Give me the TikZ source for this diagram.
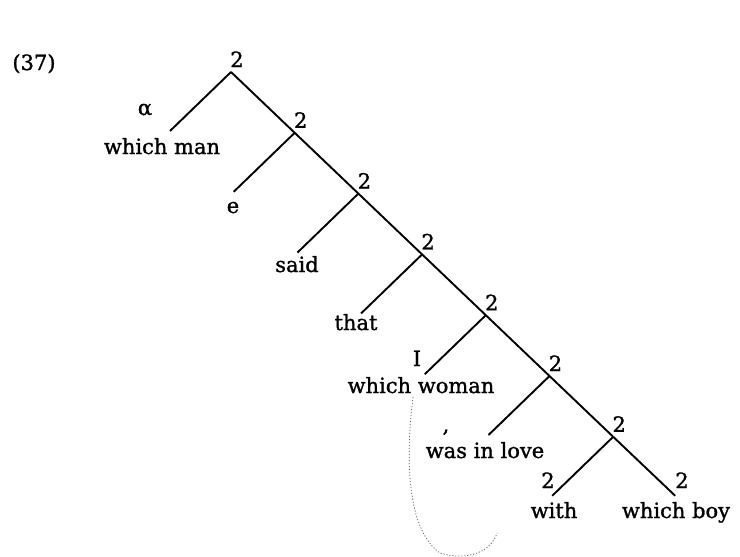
\documentclass[tikz,border=0pt]{standalone}
\usepackage{fontspec}
\setmainfont{DejaVu Serif}[BoldFont={DejaVu Serif}, BoldFeatures={FakeBold=1.2}]
\usetikzlibrary{calc}

\begin{document}
\begin{tikzpicture}[x=1pt, y=-1pt,
  word/.style={font=\fontsize{21}{25}\selectfont\bfseries, inner sep=0pt, anchor=base},
  branch/.style={line width=1.9pt},
  hand/.style={black!65, line width=0.7pt, dash pattern=on 1.2pt off 1.8pt}]
  \useasboundingbox (0,0) rectangle (740,557);
  % --- Spine: vertices, left leaves, "2" labels ---
  \foreach \k in {0,...,6} {
    \coordinate (v\k) at ({231+63.7*\k},{72+60.8*\k});
    \coordinate (l\k) at ($(v\k)+(-61,59)$);
    \node[word] (n\k) at ($(v\k)+(6,-5)$) {2};
  }
  \coordinate (r6) at ($(v6)+(62,59)$);
  % --- Branches ---
  \foreach \k [count=\j] in {0,...,5}
    \draw[branch] (v\k) -- (v\j);
  \foreach \k in {0,...,6}
    \draw[branch] (v\k) -- (l\k);
  \draw[branch] (v6) -- (r6);
  % --- Example number ---
  \node[word] (ex) at (34,70) {(37)};
  % --- Leaves ---
  \node[word] (alpha) at (145,115) {α};
  \node[word] (w0) at (162,154) {which man};
  \node[word] (w1) at (233,213) {e};
  \node[word] (w2) at (297,272) {said};
  \node[word] (w3) at (356,330) {that};
  \node[word] (one) at (417,366) {I};
  \node[word] (w4) at (421,393) {which woman};
  \node[word] (comma) at (446,432) {,};
  \node[word] (w5) at (485,458) {was in love};
  \node[word] (m6) at (548,488) {2};
  \node[word] (w6) at (554,518) {with};
  \node[word] (mr) at (682,488) {2};
  \node[word] (wr) at (676,518) {which boy};
  % --- Pencil loop ---
  \draw[hand] (413,397) .. controls (404,470) and (410,532) .. (440,553)
    .. controls (470,562) and (492,550) .. (497,533);
\end{tikzpicture}
\end{document}
